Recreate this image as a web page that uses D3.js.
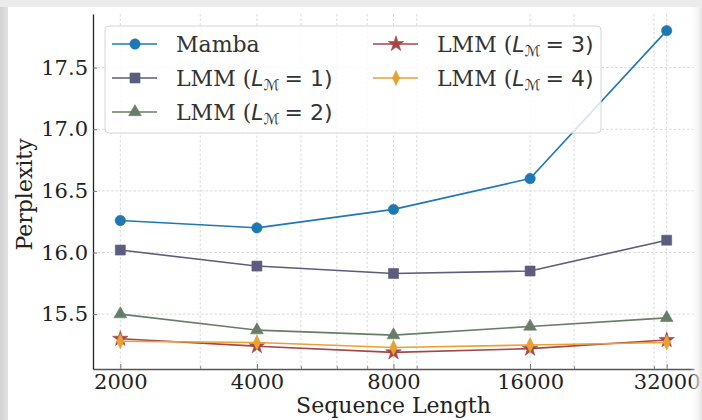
<!DOCTYPE html>
<html><head><meta charset="utf-8">
<script src="https://cdn.jsdelivr.net/npm/d3@7"></script>
<style>
html,body{margin:0;padding:0;background:#e9e9e9;}
svg{display:block;}
</style></head>
<body>
<svg id="chart" width="702" height="420"></svg>
<script>
const seqLengths = [2000, 4000, 8000, 16000, 32000];
const xTickLabels = ["2000", "4000", "8000", "16000", "32000"];
const yTicks = [15.5, 16.0, 16.5, 17.0, 17.5];
const minorX = [3000, 5000, 6000, 7000, 9000, 20000, 30000];
const seriesNames = ["Mamba", "LMM1", "LMM2", "LMM3", "LMM4"];
const mamba = [16.26, 16.20, 16.35, 16.60, 17.80];
const lmm1 = [16.02, 15.89, 15.83, 15.85, 16.10];
const lmm2 = [15.50, 15.37, 15.33, 15.40, 15.47];
const lmm3 = [15.30, 15.24, 15.19, 15.22, 15.29];
const lmm4 = [15.28, 15.27, 15.23, 15.25, 15.27];
const colors = ["#1f77b4", "#5c5c7e", "#687d66", "#a64646", "#e8a133"];
const markers = ["circle", "square", "triangle", "star", "diamond"];
const subs = [null, "1", "2", "3", "4"];

const seriesVals = [mamba, lmm1, lmm2, lmm3, lmm4];
const svg = d3.select("#chart");

// card background
const defs = svg.append("defs");
const gl = defs.append("linearGradient").attr("id","lg").attr("x1","0").attr("x2","1");
gl.append("stop").attr("offset","0").attr("stop-color","#d2d2d2");
gl.append("stop").attr("offset","1").attr("stop-color","#e2e2e2");
const gr = defs.append("linearGradient").attr("id","rg").attr("x1","0").attr("x2","1");
gr.append("stop").attr("offset","0").attr("stop-color","#ffffff").attr("stop-opacity",0);
gr.append("stop").attr("offset","1").attr("stop-color","#e4e4e4").attr("stop-opacity",1);
svg.append("rect").attr("x",0).attr("y",0).attr("width",702).attr("height",420).attr("fill","#ebebeb");
svg.append("rect").attr("x",0).attr("y",7).attr("width",8).attr("height",413).attr("fill","url(#lg)");
svg.append("rect").attr("x",8).attr("y",7).attr("width",694).attr("height",413).attr("fill","#ffffff");

const mL = 93, mR = 694, mT = 14, mB = 369;
const pad = Math.pow(2, 0.2);
const x = d3.scaleLog().base(2).domain([2000/pad, 32000*pad]).range([mL, mR]);
const y = d3.scaleLinear().domain([15.055, 17.935]).range([mB, mT]);

const serif = "'DejaVu Serif', serif";
const sans = "'DejaVu Sans', sans-serif";

// gridlines
const grid = svg.append("g").attr("stroke","#cfcfcf").attr("stroke-width",0.8).attr("stroke-dasharray","2.5,2");
grid.selectAll("line.gx").data(seqLengths.concat(minorX)).join("line").attr("class","gx")
  .attr("x1", d=>x(d)).attr("x2", d=>x(d)).attr("y1", mT).attr("y2", mB);
grid.selectAll("line.gy").data(yTicks).join("line").attr("class","gy")
  .attr("x1", mL).attr("x2", mR).attr("y1", d=>y(d)).attr("y2", d=>y(d));

// axes via d3
const xAxis = d3.axisBottom(x).tickValues(seqLengths).tickFormat((d,i)=>xTickLabels[i]).tickSizeInner(-5).tickSizeOuter(0).tickPadding(5);
const gx = svg.append("g").attr("transform",`translate(0,${mB})`).call(xAxis);
gx.select(".domain").attr("stroke","#555").attr("stroke-width",1.3);
gx.selectAll(".tick line").attr("stroke","#777");
gx.selectAll("text").attr("font-family",serif).attr("font-size",21).attr("fill","#222");
const gxm = svg.append("g").attr("transform",`translate(0,${mB})`).call(d3.axisBottom(x).tickValues(minorX).tickFormat("").tickSizeInner(-3).tickSizeOuter(0));
gxm.select(".domain").remove();
gxm.selectAll(".tick line").attr("stroke","#888");

const yAxis = d3.axisLeft(y).tickValues(yTicks).tickFormat(d3.format(".1f")).tickSizeInner(-4).tickSizeOuter(0).tickPadding(5);
const gy = svg.append("g").attr("transform",`translate(${mL},0)`).call(yAxis);
gy.select(".domain").attr("stroke","#222").attr("stroke-width",1.3);
gy.selectAll(".tick line").attr("stroke","#777");
gy.selectAll("text").attr("font-family",serif).attr("font-size",21).attr("fill","#222");

// axis labels
svg.append("text").attr("x",(mL+mR)/2).attr("y",413).attr("text-anchor","middle")
  .attr("font-family",serif).attr("font-size",22).attr("fill","#222").text("Sequence Length");
svg.append("text").attr("transform",`translate(32,${(mT+mB)/2 + 3}) rotate(-90)`).attr("text-anchor","middle")
  .attr("font-family",serif).attr("font-size",22).attr("fill","#222").text("Perplexity");

function markerPath(type) {
  if (type === "diamond") return "M0,-7.5L3.6,0L0,7.5L-3.6,0Z";
  const sz = {circle:85, square:100, triangle:70, star:75}[type];
  const sym = {circle:d3.symbolCircle, square:d3.symbolSquare, triangle:d3.symbolTriangle, star:d3.symbolStar}[type];
  return d3.symbol().type(sym).size(sz)();
}

const line = d3.line().x((d,i)=>x(seqLengths[i])).y(d=>y(d));
const plot = svg.append("g");
seriesVals.forEach((vals, k) => {
  const g = plot.append("g");
  g.append("path").datum(vals).attr("d", line).attr("fill","none")
    .attr("stroke", colors[k]).attr("stroke-width",1.6);
  g.selectAll("path.m").data(vals).join("path").attr("class","m")
    .attr("transform",(d,i)=>`translate(${x(seqLengths[i])},${y(d)})`)
    .attr("d", markerPath(markers[k])).attr("fill", colors[k])
    .attr("stroke", colors[k]).attr("stroke-width",0.6);
});

// legend
const lg = svg.append("g");
lg.append("rect").attr("x",105).attr("y",26).attr("width",496).attr("height",107).attr("rx",4)
  .attr("fill","#ffffff").attr("fill-opacity",0.8).attr("stroke","#d4d4d4").attr("stroke-width",1);
const pos = [[112,44],[112,78],[112,112],[373,44],[373,78]];
seriesNames.forEach((nm,k)=>{
  const [lx,ly] = pos[k];
  lg.append("line").attr("x1",lx).attr("x2",lx+45).attr("y1",ly).attr("y2",ly).attr("stroke",colors[k]).attr("stroke-width",1.6);
  lg.append("path").attr("transform",`translate(${lx+23},${ly})`).attr("d",markerPath(markers[k]))
    .attr("fill",colors[k]).attr("stroke",colors[k]).attr("stroke-width",0.6);
  const t = lg.append("text").attr("x",lx+64).attr("y",ly+8).attr("font-size",22).attr("fill","#333");
  if (subs[k] === null) {
    t.append("tspan").attr("font-family",serif).text("Mamba");
  } else {
    t.append("tspan").attr("font-family",serif).text("LMM (");
    t.append("tspan").attr("font-family",sans).attr("font-style","italic").text("L");
    t.append("tspan").attr("font-family",sans).attr("font-style","italic").attr("font-size",15).attr("dy",4).text("ℳ");
    t.append("tspan").attr("font-family",sans).attr("dy",-4).attr("dx",5).text("= " + subs[k] + ")");
  }
});

// right-edge shadow of the card
svg.append("rect").attr("x",690).attr("y",7).attr("width",12).attr("height",413).attr("fill","url(#rg)");
</script>
</body></html>
